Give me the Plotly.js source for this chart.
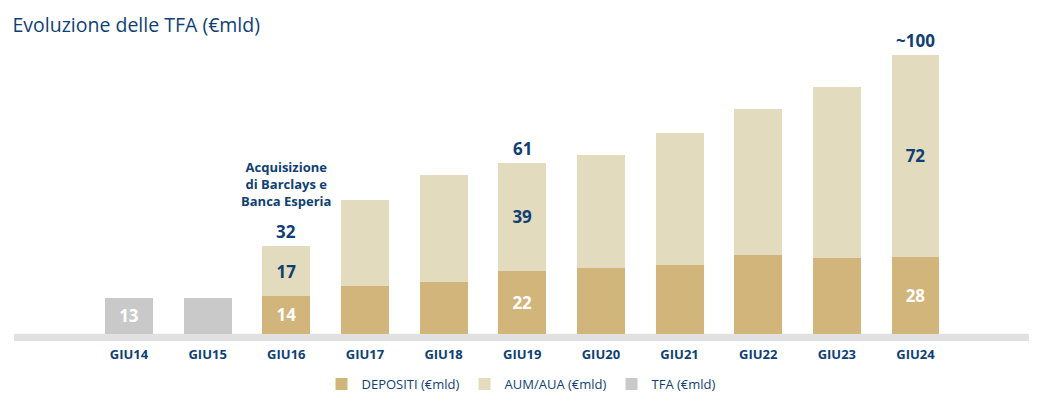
<!DOCTYPE html>
<html>
<head>
<meta charset="utf-8">
<script src="https://cdn.plot.ly/plotly-3.0.1.min.js"></script>
<style>html,body{margin:0;padding:0;background:#fff;}#chart{width:1043px;height:413px;}</style>
</head>
<body>
<div id="chart"></div>
<script>
var categories = ["GIU14","GIU15","GIU16","GIU17","GIU18","GIU19","GIU20","GIU21","GIU22","GIU23","GIU24"];
var depositi = [null, null, 13.6, 17.2, 18.6, 22.6, 23.7, 24.7, 28.4, 27.2, 27.5];
var aumAua = [null, null, 17.7, 30.8, 38.2, 38.7, 40.3, 47.1, 52.2, 61.3, 72.5];
var tfa = [12.8, 12.8, null, null, null, null, null, null, null, null, null];
var depositiLabels = ["", "", "14", "", "", "22", "", "", "", "", "28"];
var aumLabels = ["", "", "17", "", "", "39", "", "", "", "", "72"];
var tfaLabels = ["13", "", "", "", "", "", "", "", "", "", ""];
var totalLabels = {"GIU16": "32", "GIU19": "61", "GIU24": "~100"};
var noteText = "<b>Acquisizione<br>di Barclays e<br>Banca Esperia</b>";

var navy = "#0f3f74";
var font = "Open Sans, Noto Sans, sans-serif";

function bold(arr){ return arr.map(function(s){ return s ? "<b>"+s+"</b>" : ""; }); }

var traces = [
  {type:"bar", name:"DEPOSITI (€mld)", x:categories, y:depositi, text:bold(depositiLabels),
   marker:{color:"#d2b57a"}, textposition:"inside", insidetextanchor:"middle",
   textfont:{color:"#ffffff", size:17, family:font}, hoverinfo:"skip"},
  {type:"bar", name:"AUM/AUA (€mld)", x:categories, y:aumAua, text:bold(aumLabels),
   marker:{color:"#e2dbbd"}, textposition:"inside", insidetextanchor:"middle",
   textfont:{color:navy, size:17, family:font}, hoverinfo:"skip"},
  {type:"bar", name:"TFA (€mld)", x:categories, y:tfa, text:bold(tfaLabels),
   marker:{color:"#cac9c9"}, textposition:"inside", insidetextanchor:"middle",
   textfont:{color:"#ffffff", size:17, family:font}, hoverinfo:"skip"}
];

var annotations = [];
categories.forEach(function(c, i){
  if (totalLabels[c]) {
    var tot = (depositi[i]||0) + (aumAua[i]||0) + (tfa[i]||0);
    annotations.push({x:c, y:tot, xref:"x", yref:"y", text:"<b>"+totalLabels[c]+"</b>",
      showarrow:false, yanchor:"bottom", yshift:1, font:{size:17, color:navy, family:font}});
  }
});
annotations.push({x:"GIU16", y:43.5, xref:"x", yref:"y", text:noteText, showarrow:false,
  yanchor:"bottom", align:"center", font:{size:13, color:navy, family:font}});

var layout = {
  width:1043, height:413,
  margin:{l:14, r:14, t:26, b:72, autoexpand:false},
  paper_bgcolor:"#ffffff", plot_bgcolor:"#ffffff",
  barmode:"stack", bargap:0.39,
  title:{text:"Evoluzione delle TFA (€mld)", x:0.012, xanchor:"left", y:0.94, yanchor:"middle",
    font:{size:19.5, color:navy, family:font}},
  xaxis:{type:"category", range:[-1.462, 11.443], showgrid:false, zeroline:false, showline:false,
    ticks:"", ticklabelstandoff:4, tickfont:{size:13, color:navy, family:font},
    tickvals:categories, ticktext:categories.map(function(c){return "<b>"+c+"</b>";}), fixedrange:true},
  yaxis:{range:[-2.6, 110.3], visible:false, fixedrange:true},
  shapes:[{type:"rect", xref:"paper", yref:"y", x0:0, x1:1, y0:-2.6, y1:0,
    fillcolor:"#e1e1e1", line:{width:0}, layer:"below"}],
  annotations:annotations,
  showlegend:true,
  legend:{orientation:"h", x:0.5, xanchor:"center", xref:"container", y:0.07, yanchor:"middle", yref:"container",
    font:{size:13, color:navy, family:font}, traceorder:"normal", itemwidth:30},
  font:{family:font}
};

Plotly.newPlot("chart", traces, layout, {displayModeBar:false, staticPlot:true});
</script>
</body>
</html>
